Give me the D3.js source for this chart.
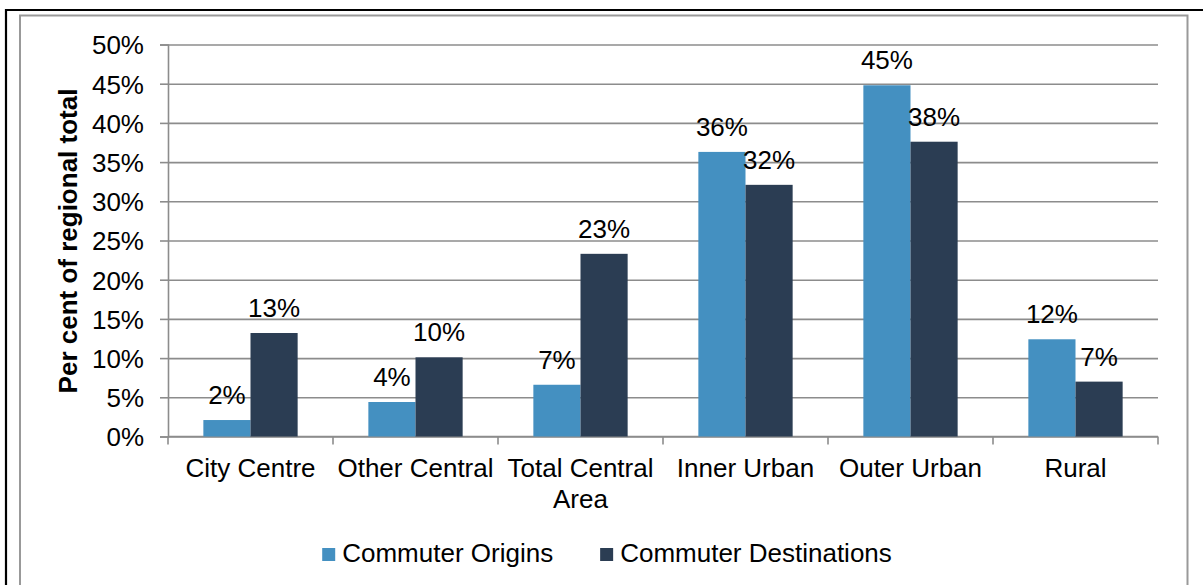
<!DOCTYPE html>
<html>
<head>
<meta charset="utf-8">
<script src="https://cdn.jsdelivr.net/npm/d3@7"></script>
<style>
  body { margin: 0; background: #fff; }
  svg { display: block; font-family: "Liberation Sans", Arial, sans-serif; }
</style>
</head>
<body>
<div class="commute-chart"></div>
<script>
"use strict";

const categories = ["City Centre", "Other Central", "Total Central Area", "Inner Urban", "Outer Urban", "Rural"];
const seriesNames = ["Commuter Origins", "Commuter Destinations"];
const origins = [2.1, 4.4, 6.6, 36.3, 44.8, 12.4];
const destinations = [13.2, 10.1, 23.3, 32.1, 37.6, 7.0];
const yTicks = [0, 5, 10, 15, 20, 25, 30, 35, 40, 45, 50];

const colors = ["#4490c1", "#2b3d53"];
const gridColor = "#8c8c8c";

const W = 1203, H = 585;
const plot = { left: 168, right: 1158, top: 44.5, bottom: 436.5 };

const svg = d3
  .select(".commute-chart")
  .append("svg")
  .attr("width", W)
  .attr("height", H);

// outer frames
svg.append("path")
  .attr("d", `M6,${H + 5}V10H${W + 5}`)
  .attr("fill", "none")
  .attr("stroke", "#000")
  .attr("stroke-width", 2.2);

svg.append("path")
  .attr("d", `M20,${H + 5}V15.5H1187.5V${H + 5}`)
  .attr("fill", "none")
  .attr("stroke", "#999")
  .attr("stroke-width", 2);

const x = d3.scaleBand().domain(categories).range([plot.left, plot.right]);
const xInner = d3.scaleBand().domain(seriesNames).range([0, x.bandwidth()]).paddingOuter(0.75);
const y = d3.scaleLinear().domain([0, 50]).range([plot.bottom, plot.top]);

// y axis with gridlines
const yAxis = d3
  .axisLeft(y)
  .tickValues(yTicks)
  .tickFormat((d) => d + "%")
  .tickSize(8)
  .tickPadding(16);

const yGroup = svg
  .append("g")
  .attr("transform", `translate(${plot.left},0)`)
  .call(yAxis);

yGroup.select(".domain").attr("stroke", gridColor).attr("stroke-width", 1.6);
yGroup.selectAll(".tick line").attr("stroke", gridColor).attr("stroke-width", 1.6);
yGroup
  .selectAll(".tick line")
  .clone()
  .attr("x1", 0)
  .attr("x2", plot.right - plot.left);
yGroup
  .selectAll(".tick text")
  .attr("font-size", "26px")
  .attr("font-family", "Liberation Sans, Arial, sans-serif")
  .attr("fill", "#000")
  .attr("dy", "0.36em");

// x axis line and boundary ticks
const xGroup = svg.append("g").attr("class", "x-axis");
xGroup
  .append("line")
  .attr("x1", plot.left)
  .attr("x2", plot.right)
  .attr("y1", plot.bottom)
  .attr("y2", plot.bottom)
  .attr("stroke", gridColor)
  .attr("stroke-width", 1.6);

const bounds = categories.map((c) => x(c)).concat([plot.right]);
xGroup
  .selectAll("line.bound")
  .data(bounds)
  .join("line")
  .attr("class", "bound")
  .attr("x1", (d) => d)
  .attr("x2", (d) => d)
  .attr("y1", plot.bottom)
  .attr("y2", plot.bottom + 8)
  .attr("stroke", gridColor)
  .attr("stroke-width", 1.6);

// bars
const rows = categories.map((c, i) => ({ cat: c, values: [origins[i], destinations[i]] }));

const groups = svg
  .append("g")
  .selectAll("g")
  .data(rows)
  .join("g")
  .attr("transform", (d) => `translate(${x(d.cat)},0)`);

groups
  .selectAll("rect")
  .data((d) => d.values.map((v, j) => ({ key: seriesNames[j], value: v, j })))
  .join("rect")
  .attr("x", (d) => xInner(d.key))
  .attr("width", xInner.bandwidth())
  .attr("y", (d) => y(d.value))
  .attr("height", (d) => y(0) - y(d.value))
  .attr("fill", (d) => colors[d.j]);

// value labels
groups
  .selectAll("text")
  .data((d) => d.values.map((v, j) => ({ key: seriesNames[j], value: v })))
  .join("text")
  .attr("x", (d) => xInner(d.key) + xInner.bandwidth() / 2)
  .attr("y", (d) => y(d.value) - 16)
  .attr("text-anchor", "middle")
  .attr("font-size", "26px")
  .attr("fill", "#000")
  .text((d) => Math.round(d.value) + "%");

// category labels, wrapped to band width
const catLabels = svg
  .append("g")
  .selectAll("text")
  .data(categories)
  .join("text")
  .attr("x", (d) => x(d) + x.bandwidth() / 2)
  .attr("y", plot.bottom + 40.5)
  .attr("text-anchor", "middle")
  .attr("font-size", "26px")
  .attr("fill", "#000");

catLabels.each(function (d) {
  const t = d3.select(this);
  const words = d.split(" ");
  let line = [];
  let lineNo = 0;
  let tspan = t.append("tspan").attr("x", x(d) + x.bandwidth() / 2);
  words.forEach((w) => {
    line.push(w);
    tspan.text(line.join(" "));
    if (tspan.node().getComputedTextLength() > x.bandwidth() && line.length > 1) {
      line.pop();
      tspan.text(line.join(" "));
      line = [w];
      lineNo++;
      tspan = t
        .append("tspan")
        .attr("x", x(d) + x.bandwidth() / 2)
        .attr("dy", 31)
        .text(w);
    }
  });
});

// y axis title
svg
  .append("text")
  .attr("transform", "translate(77,241) rotate(-90)")
  .attr("text-anchor", "middle")
  .attr("font-size", "26px")
  .attr("font-weight", 700)
  .attr("fill", "#000")
  .text("Per cent of regional total");

// legend
const legend = svg.append("g");
const items = legend
  .selectAll("g")
  .data(seriesNames)
  .join("g");

items
  .append("rect")
  .attr("width", 13)
  .attr("height", 13)
  .attr("y", 548)
  .attr("fill", (d, i) => colors[i]);

items
  .append("text")
  .attr("x", 20)
  .attr("y", 562)
  .attr("font-size", "26px")
  .attr("fill", "#000")
  .text((d) => d);

const itemWidths = items.nodes().map((n) => n.getBBox().width);
const gap = 47;
const totalW = d3.sum(itemWidths) + gap * (itemWidths.length - 1);
let lx = 607 - totalW / 2;
items.attr("transform", (d, i) => {
  const tx = lx;
  lx += itemWidths[i] + gap;
  return `translate(${tx},0)`;
});
</script>
</body>
</html>
